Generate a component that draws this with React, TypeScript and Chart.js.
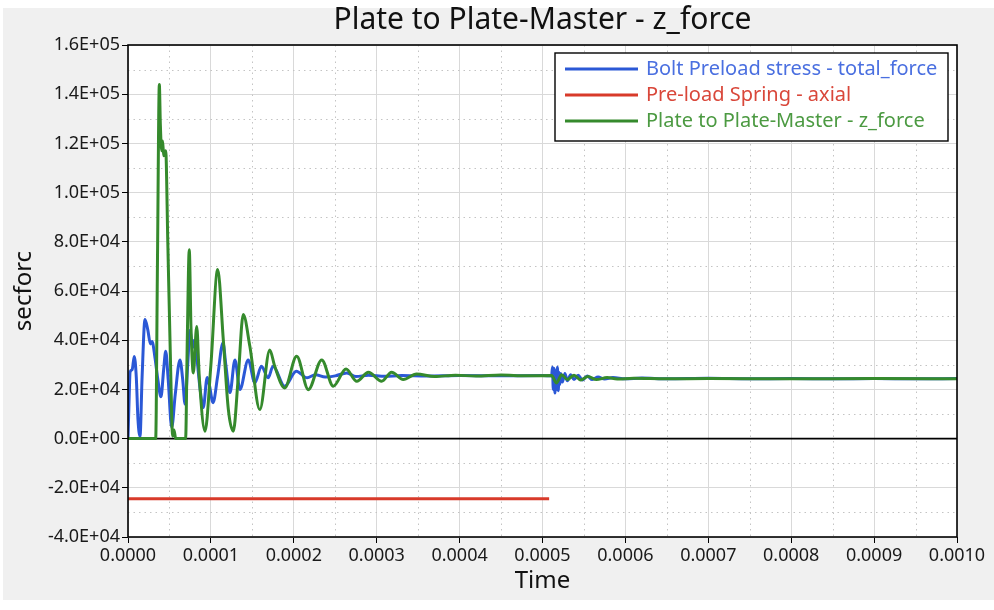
import React, { useEffect, useRef } from "react";
import { Chart, registerables } from "chart.js";

Chart.register(...registerables);

// times in microseconds, forces in N
const boltTimeUs = [
  0, 1.5, 2.5, 5, 7.5, 10, 12, 14.5, 17, 20.5, 24, 27, 29, 32.5, 36, 39.8, 43, 45.5, 48.5, 52.7,
  57, 62.7, 66, 68.8, 72, 74.8, 78, 80, 83, 87, 90.8, 95.5, 98, 102.6, 108, 114.6, 118, 123, 129,
  135, 145, 153, 161, 169, 175, 189, 203, 216, 226, 238, 250, 264, 275, 290, 310, 330, 360, 400,
  450, 500, 511, 512, 513, 514, 515, 516, 517, 518, 519, 520, 521, 522, 524, 527, 530, 534, 538,
  543, 548, 554, 560, 567, 575, 585, 600, 620, 650, 700, 750, 800, 850, 900, 950, 1000,
];
const boltForce = [
  0, 18000, 27000, 28000, 33400, 25000, 8000, 1000, 25000, 48400, 44000, 38500, 39500, 33000,
  24000, 17000, 28000, 35500, 24000, 4500, 18000, 32000, 24000, 14000, 30000, 44000, 37000, 40000,
  33000, 20000, 12600, 24800, 22000, 14600, 25000, 39000, 30000, 18700, 32000, 20000, 32000, 22700,
  29400, 24700, 29400, 21300, 27400, 24700, 26000, 25000, 25500, 26700, 25200, 25800, 25300, 25600,
  25400, 25600, 25500, 25600, 25500, 29000, 20000, 28500, 18500, 27500, 20000, 29000, 19500, 27000,
  22000, 26500, 23000, 26500, 23500, 26000, 24000, 25800, 23800, 25400, 24000, 25000, 24200, 24800,
  24300, 24600, 24300, 24500, 24300, 24400, 24300, 24400, 24300, 24400,
];

const springTimeUs = [0, 508];
const springForce = [-24500, -24500];

const plateTimeUs = [
  0, 33.4, 35.5, 37.8, 39, 40.6, 41.8, 43, 45.5, 48, 51, 53.9, 55.5, 57.5, 69.5, 71.5, 73.9, 76,
  78.8, 82.9, 86, 92.9, 100, 108.2, 115, 121, 127, 133, 139, 147, 159, 171, 177, 189, 203.5, 217.5,
  233.7, 247.6, 263, 276, 290, 306, 318, 332, 348, 370, 395, 420, 450, 480, 511, 517, 523, 530, 538,
  546, 555, 565, 578, 590, 610, 650, 700, 800, 900, 1000,
];
const plateForce = [
  0, 0, 70000, 143900, 128000, 117000, 121000, 115000, 117000, 80000, 35000, 1000, 3500, 0, 0,
  40000, 76800, 45000, 26700, 45600, 25000, 3000, 30000, 68700, 40000, 12000, 3000, 25000, 50400,
  37500, 11800, 36000, 29400, 20600, 33500, 19900, 32000, 21300, 28300, 23300, 27000, 23300, 27000,
  24000, 26300, 25200, 25800, 25400, 25900, 25500, 25600, 22600, 26000, 24000, 25800, 23800, 25200,
  24000, 24800, 24200, 24500, 24300, 24400, 24300, 24400, 24300,
];

const seriesLabels = [
  "Bolt Preload stress - total_force",
  "Pre-load Spring - axial",
  "Plate to Plate-Master - z_force",
];
const lineColors = ["#2b58d6", "#d83a2a", "#358a2c"];
const legendTextColors = ["#4a6fe0", "#d9473a", "#4c9a42"];

const FONT = '"Noto Sans", "DejaVu Sans", sans-serif';

const toPoints = (ts: number[], vs: number[]) =>
  ts.map((t, i) => ({ x: t / 1e6, y: vs[i] }));

const sci = (v: number) => {
  if (Math.abs(v) < 1e-9) return "0.0E+00";
  const e = Math.floor(Math.log10(Math.abs(v)) + 1e-9);
  const m = v / Math.pow(10, e);
  return `${m.toFixed(1)}E${e < 0 ? "-" : "+"}${String(Math.abs(e)).padStart(2, "0")}`;
};

const framePlugin = {
  id: "frame",
  beforeDraw(chart: any) {
    const { ctx, chartArea: a } = chart;
    ctx.save();
    ctx.fillStyle = "#ffffff";
    ctx.fillRect(a.left, a.top, a.right - a.left, a.bottom - a.top);
    ctx.restore();
  },
  beforeDatasetsDraw(chart: any) {
    const { ctx, chartArea: a, scales } = chart;
    const xs = scales.x;
    const ys = scales.y;
    ctx.save();
    // minor dotted grid
    ctx.strokeStyle = "#c4c4c4";
    ctx.lineWidth = 1;
    ctx.setLineDash([1.5, 4]);
    for (let k = 0; k < 10; k++) {
      const px = Math.round(xs.getPixelForValue(0.00005 + k * 0.0001)) + 0.5;
      ctx.beginPath();
      ctx.moveTo(px, a.top);
      ctx.lineTo(px, a.bottom);
      ctx.stroke();
    }
    for (let k = 0; k < 10; k++) {
      const py = Math.round(ys.getPixelForValue(-30000 + k * 20000)) + 0.5;
      ctx.beginPath();
      ctx.moveTo(a.left, py);
      ctx.lineTo(a.right, py);
      ctx.stroke();
    }
    ctx.setLineDash([]);
    // zero line
    const y0 = ys.getPixelForValue(0);
    ctx.strokeStyle = "#000";
    ctx.lineWidth = 1.6;
    ctx.beginPath();
    ctx.moveTo(a.left, y0);
    ctx.lineTo(a.right, y0);
    ctx.stroke();
    ctx.restore();
  },
  afterDatasetsDraw(chart: any) {
    const { ctx, chartArea: a } = chart;
    ctx.save();
    ctx.strokeStyle = "#000";
    ctx.lineWidth = 1.6;
    ctx.strokeRect(a.left, a.top, a.right - a.left, a.bottom - a.top);

    // legend box, top right inside the plot
    const bx = a.right - 402;
    const by = a.top + 8;
    const bw = 393;
    const bh = 88;
    ctx.fillStyle = "#fff";
    ctx.fillRect(bx, by, bw, bh);
    ctx.lineWidth = 1.4;
    ctx.strokeRect(bx, by, bw, bh);
    ctx.font = `20px ${FONT}`;
    ctx.textBaseline = "middle";
    ctx.textAlign = "left";
    chart.data.datasets.forEach((ds: any, i: number) => {
      const ry = by + 16 + i * 26;
      ctx.strokeStyle = lineColors[i];
      ctx.lineWidth = 3;
      ctx.beginPath();
      ctx.moveTo(bx + 10, ry);
      ctx.lineTo(bx + 83, ry);
      ctx.stroke();
      ctx.fillStyle = legendTextColors[i];
      ctx.fillText(ds.label, bx + 91, ry);
    });
    ctx.restore();
  },
};

const ForceChart: React.FC = () => {
  const canvasRef = useRef<HTMLCanvasElement | null>(null);
  const chartRef = useRef<Chart | null>(null);

  useEffect(() => {
    if (!canvasRef.current) return;
    const ctx = canvasRef.current.getContext("2d");
    if (!ctx) return;
    if (chartRef.current) chartRef.current.destroy();

    const series = [
      toPoints(boltTimeUs, boltForce),
      toPoints(springTimeUs, springForce),
      toPoints(plateTimeUs, plateForce),
    ];
    const drawOrder = [2, 1, 0];

    chartRef.current = new Chart(ctx, {
      type: "line",
      data: {
        datasets: series.map((pts, i) => ({
          label: seriesLabels[i],
          data: pts,
          borderColor: lineColors[i],
          backgroundColor: lineColors[i],
          borderWidth: 3,
          pointRadius: 0,
          cubicInterpolationMode: "monotone" as const,
          fill: false,
          order: drawOrder[i],
        })),
      },
      options: {
        responsive: false,
        animation: false,
        layout: { padding: { left: 0, right: 37, top: 0, bottom: 0 } },
        plugins: {
          legend: { display: false },
          tooltip: { enabled: false },
          title: {
            display: true,
            fullSize: false,
            text: "Plate to Plate-Master - z_force",
            color: "#111",
            font: { family: FONT, size: 30, weight: "normal" },
            padding: { top: 2, bottom: 7 },
          },
        },
        scales: {
          x: {
            type: "linear",
            min: 0,
            max: 0.001,
            afterFit: (s: any) => {
              s.height = 73;
            },
            ticks: {
              stepSize: 0.0001,
              color: "#1a1a1a",
              padding: 2,
              maxRotation: 0,
              font: { family: FONT, size: 18 },
              callback: (v: any) => Number(v).toFixed(4),
            },
            grid: { color: "#d9d9d9", tickColor: "#000", tickLength: 6, lineWidth: 1 },
            border: { display: false },
            title: {
              display: true,
              text: "Time",
              color: "#111",
              font: { family: FONT, size: 24 },
              padding: { top: 0, bottom: 14 },
            },
          },
          y: {
            type: "linear",
            min: -40000,
            max: 160000,
            afterFit: (s: any) => {
              s.width = 128;
            },
            ticks: {
              stepSize: 20000,
              color: "#1a1a1a",
              padding: 2,
              font: { family: FONT, size: 18 },
              callback: (v: any) => sci(Number(v)),
            },
            grid: { color: "#d9d9d9", tickColor: "#000", tickLength: 6, lineWidth: 1 },
            border: { display: false },
            title: {
              display: true,
              text: "secforc",
              color: "#111",
              font: { family: FONT, size: 24 },
              padding: { top: 10, bottom: 0 },
            },
          },
        },
      } as any,
      plugins: [framePlugin],
    });

    return () => {
      if (chartRef.current) {
        chartRef.current.destroy();
        chartRef.current = null;
      }
    };
  }, []);

  return (
    <div style={{ position: "absolute", left: 0, top: 0, width: 994, height: 610 }}>
      <div
        style={{
          position: "absolute",
          left: 3,
          top: 8,
          width: 991,
          height: 592,
          background: "#f0f0f0",
        }}
      />
      <canvas
        ref={canvasRef}
        width={994}
        height={610}
        style={{ position: "absolute", left: 0, top: 0, width: 994, height: 610 }}
      />
    </div>
  );
};

export default function App() {
  return <ForceChart />;
}
